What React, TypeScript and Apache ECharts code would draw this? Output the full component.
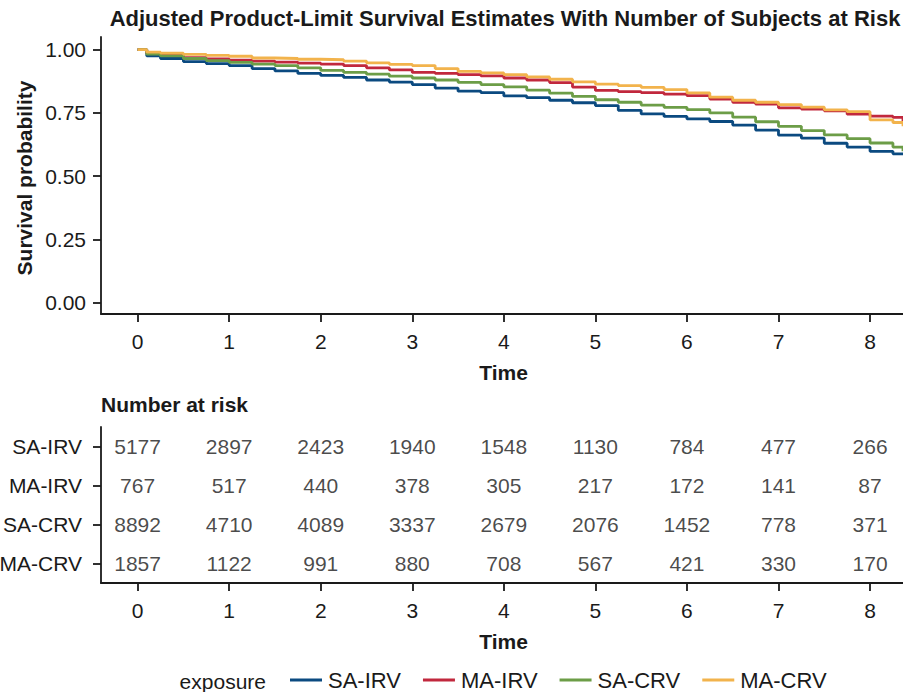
import React, { useEffect, useRef } from "react";
import * as echarts from "echarts";

const FONT = '"Liberation Sans", Arial, Helvetica, sans-serif';
const TXT = "#1a1a1a";

const seriesNames = ["SA-IRV", "MA-IRV", "SA-CRV", "MA-CRV"];
const seriesColors = ["#0b4a80", "#c1283d", "#6c9d47", "#f2b34c"];

const times = [0, 0.1, 0.25, 0.5, 0.75, 1, 1.25, 1.5, 1.75, 2, 2.25, 2.5, 2.75, 3, 3.25, 3.5, 3.75, 4, 4.25, 4.5, 4.75, 5, 5.25, 5.5, 5.75, 6, 6.25, 6.5, 6.75, 7, 7.25, 7.5, 7.75, 8, 8.25, 8.36];

const survSaIrv = [1.0, 0.975, 0.965, 0.953, 0.945, 0.937, 0.925, 0.916, 0.906, 0.898, 0.89, 0.88, 0.872, 0.862, 0.848, 0.836, 0.83, 0.817, 0.81, 0.8, 0.79, 0.779, 0.76, 0.746, 0.736, 0.726, 0.716, 0.702, 0.682, 0.662, 0.65, 0.63, 0.615, 0.598, 0.588, 0.588];
const survMaIrv = [1.0, 0.985, 0.978, 0.968, 0.963, 0.958, 0.955, 0.951, 0.947, 0.943, 0.937, 0.928, 0.92, 0.91, 0.906, 0.901, 0.896, 0.888, 0.88, 0.87, 0.852, 0.839, 0.834, 0.83, 0.824, 0.818, 0.805, 0.792, 0.785, 0.77, 0.765, 0.758, 0.745, 0.737, 0.732, 0.71];
const survSaCrv = [1.0, 0.982, 0.975, 0.965, 0.957, 0.95, 0.943, 0.937, 0.928, 0.918, 0.91, 0.903, 0.895, 0.888, 0.88, 0.871, 0.862, 0.853, 0.84, 0.828, 0.815, 0.802, 0.792, 0.781, 0.772, 0.763, 0.75, 0.733, 0.715, 0.697, 0.68, 0.663, 0.648, 0.631, 0.615, 0.598];
const survMaCrv = [1.0, 0.99, 0.986, 0.981, 0.977, 0.974, 0.967, 0.965, 0.962, 0.96, 0.955, 0.948, 0.942, 0.937, 0.925, 0.914, 0.908, 0.901, 0.892, 0.883, 0.873, 0.864, 0.858, 0.851, 0.842, 0.829, 0.812, 0.8, 0.792, 0.783, 0.773, 0.762, 0.755, 0.722, 0.712, 0.697];

const riskTimes = [0, 1, 2, 3, 4, 5, 6, 7, 8];
const riskSaIrv = [5177, 2897, 2423, 1940, 1548, 1130, 784, 477, 266];
const riskMaIrv = [767, 517, 440, 378, 305, 217, 172, 141, 87];
const riskSaCrv = [8892, 4710, 4089, 3337, 2679, 2076, 1452, 778, 371];
const riskMaCrv = [1857, 1122, 991, 880, 708, 567, 421, 330, 170];

const xTicks = [0, 1, 2, 3, 4, 5, 6, 7, 8];
const yTicks = [0, 0.25, 0.5, 0.75, 1];

const survData = [survSaIrv, survMaIrv, survSaCrv, survMaCrv];
const riskData = [riskSaIrv, riskMaIrv, riskSaCrv, riskMaCrv];

export default function App() {
  const ref = useRef<HTMLDivElement>(null);
  useEffect(() => {
    if (!ref.current) return;
    const chart = echarts.init(ref.current, null, { renderer: "svg" });
    const axisLine = { show: true, onZero: false, lineStyle: { color: TXT, width: 1.8 } };
    const tickStyle = { color: TXT, width: 1.8 };
    const labelBase = { fontSize: 21, color: TXT, fontFamily: FONT };
    const xAxisCommon = (gridIndex: number) => ({
      gridIndex,
      type: "value",
      min: -0.4,
      max: 8.36,
      axisLine,
      axisTick: { show: true, length: 8, lineStyle: tickStyle, customValues: xTicks },
      axisLabel: { ...labelBase, margin: 17, customValues: xTicks, formatter: (v: number) => String(v) },
      splitLine: { show: false },
    });
    const text = (t: string, x: number, y: number, opts: any = {}) => ({
      type: "text",
      x,
      y,
      rotation: opts.rotation || 0,
      style: {
        text: t,
        fill: TXT,
        font: `${opts.bold ? "bold " : ""}${opts.size || 21}px ${FONT}`,
        align: opts.align || "center",
        verticalAlign: "middle",
      },
    });
    const option: any = {
      animation: false,
      backgroundColor: "#ffffff",
      textStyle: { fontFamily: FONT },
      grid: [
        { left: 101, top: 37, right: 0, height: 277, outerBoundsMode: "none", containLabel: false },
        { left: 101, top: 427, right: 0, height: 156, outerBoundsMode: "none", containLabel: false },
      ],
      xAxis: [xAxisCommon(0), xAxisCommon(1)],
      yAxis: [
        {
          gridIndex: 0,
          type: "value",
          min: -0.045,
          max: 1.05,
          axisLine,
          axisTick: { show: true, length: 8, lineStyle: tickStyle, customValues: yTicks },
          axisLabel: { ...labelBase, margin: 15, customValues: yTicks, formatter: (v: number) => v.toFixed(2) },
          splitLine: { show: false },
        },
        {
          gridIndex: 1,
          type: "category",
          data: seriesNames,
          inverse: true,
          axisLine,
          axisTick: { show: true, length: 8, lineStyle: tickStyle, alignWithLabel: true },
          axisLabel: { ...labelBase, margin: 19 },
          splitLine: { show: false },
        },
      ],
      legend: {
        data: seriesNames,
        left: 290,
        top: 669,
        padding: 0,
        icon: "rect",
        itemWidth: 32,
        itemHeight: 3,
        itemGap: 22,
        textStyle: { fontSize: 22, lineHeight: 22, color: TXT, fontFamily: FONT, padding: [0, 0, 0, 1] },
      },
      graphic: [
        text("Adjusted Product-Limit Survival Estimates With Number of Subjects at Risk", 505, 18, { bold: true, size: 22 }),
        text("Survival probability", 24, 178, { bold: true, rotation: Math.PI / 2 }),
        text("Time", 503.5, 372, { bold: true }),
        text("Number at risk", 101, 404, { bold: true, align: "left" }),
        text("Time", 503.5, 641, { bold: true }),
        text("exposure", 266, 681, { align: "right" }),
      ],
      series: [
        ...seriesNames.map((name, k) => ({
          type: "line",
          name,
          xAxisIndex: 0,
          yAxisIndex: 0,
          step: "end",
          symbol: "none",
          showSymbol: false,
          data: times.map((t, i) => [t, survData[k][i]]),
          lineStyle: { width: 2.8, color: seriesColors[k] },
          itemStyle: { color: seriesColors[k] },
        })),
        ...seriesNames.map((name, k) => ({
          type: "scatter",
          name: "risk-" + name,
          xAxisIndex: 1,
          yAxisIndex: 1,
          symbolSize: 1,
          itemStyle: { color: "rgba(0,0,0,0)" },
          data: riskTimes.map((t, i) => [t, k, riskData[k][i]]),
          label: {
            show: true,
            position: "inside",
            formatter: (p: any) => String(p.value[2]),
            fontSize: 21,
            color: TXT,
            fontFamily: FONT,
          },
        })),
      ],
    };
    chart.setOption(option);
    return () => chart.dispose();
  }, []);
  return (
    <div
      ref={ref}
      style={{ position: "absolute", left: 0, top: 0, width: 903, height: 692, background: "#fff" }}
    />
  );
}
